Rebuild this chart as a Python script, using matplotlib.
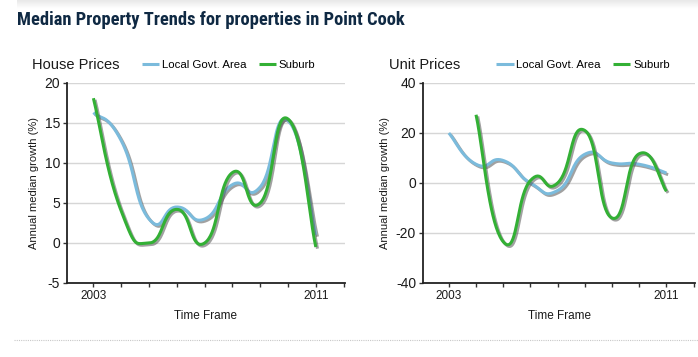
import matplotlib
matplotlib.use('Agg')
import matplotlib.pyplot as plt
import matplotlib.patheffects as pe
from matplotlib import font_manager
import numpy as np

# values
years = [2003, 2004, 2005, 2006, 2007, 2008, 2009, 2010, 2011]
house_lga = [16.3, 12.8, 3.0, 4.5, 3.0, 7.3, 7.0, 15.3, 1.0]
house_suburb = [18.1, 4.0, 0.0, 4.2, 0.0, 8.8, 5.0, 15.5, -0.5]

unit_years = [2003, 2004, 2005, 2006, 2007, 2008, 2009, 2010, 2011]
unit_lga = [20.0, 7.5, 9.0, 0.0, -3.0, 11.5, 8.0, 7.5, 4.0]
unit_suburb_years = [2004, 2005, 2006, 2007, 2008, 2009, 2010, 2011]
unit_suburb = [27.3, -23.5, 1.0, 0.0, 21.0, -14.0, 11.7, -3.3]

year_ticks = list(range(2003, 2013))
year_labels = ['2003', '', '', '', '', '', '', '', '2011', '']

lga_color = '#7bbbdc'
suburb_color = '#33b035'
title_color = '#0f2943'
text_color = '#1a1a1a'

plt.rcParams['font.family'] = ['Liberation Sans', 'DejaVu Sans']

# pick a narrow bold face for the title if one is installed
installed = {f.name for f in font_manager.fontManager.ttflist}
title_fonts = [f for f in ['Liberation Sans Narrow', 'DejaVu Sans Condensed', 'Roboto Condensed',
                           'Open Sans Condensed'] if f in installed] + ['Liberation Sans']


def spline(xs, ys, k=0.8, n=40):
    # cardinal spline (like the .NET chart "Spline" type)
    p = np.column_stack([xs, ys]).astype(float)
    m = len(p)
    tang = np.zeros_like(p)
    for i in range(m):
        a = p[max(i - 1, 0)]
        b = p[min(i + 1, m - 1)]
        tang[i] = k * (b - a)
    out = []
    t = np.linspace(0, 1, n)[:, None]
    for i in range(m - 1):
        h00 = 2 * t**3 - 3 * t**2 + 1
        h10 = t**3 - 2 * t**2 + t
        h01 = -2 * t**3 + 3 * t**2
        h11 = t**3 - t**2
        seg = h00 * p[i] + h10 * tang[i] + h01 * p[i + 1] + h11 * tang[i + 1]
        out.append(seg if i == 0 else seg[1:])
    out = np.vstack(out)
    return out[:, 0], out[:, 1]


shadow = [pe.SimpleLineShadow(offset=(1.2, -1.2), shadow_color='#555555', alpha=0.55),
          pe.Normal()]

fig = plt.figure(figsize=(6.98, 3.57), dpi=100)

# faint grey band along the top
band = fig.add_axes([17 / 698, 1 - 9 / 357, 1 - 17 / 698, 9 / 357])
band.imshow(np.linspace(0.91, 1.0, 20)[:, None], cmap='gray', vmin=0, vmax=1,
            aspect='auto', extent=(0, 1, 0, 1))
band.axis('off')

title = fig.text(17 / 698, 1 - 20 / 357, 'Median Property Trends for properties in Point Cook',
                 fontsize=15, fontweight='bold', color=title_color, va='center', ha='left',
                 family=title_fonts)
renderer = fig.canvas.get_renderer()
w = title.get_window_extent(renderer).width
title.set_fontsize(15 * 388 / w)

# dotted rule at the bottom
fig.add_artist(plt.Line2D([14 / 698, 1], [1 - 340 / 357] * 2, color='#c8c8c8',
                          lw=0.8, ls=(0, (1, 1))))


def panel(rect, title, series, ylim, yticks):
    ax = fig.add_axes(rect)
    for xs, ys, color, label in series:
        sx, sy = spline(xs, ys)
        ax.plot(sx, sy, color=color, lw=2.2, label=label, path_effects=shadow,
                solid_capstyle='butt')
    ax.set_xlim(2002.05, 2012.05)
    ax.set_ylim(*ylim)
    ax.set_yticks(yticks)
    ax.set_yticklabels([str(v) for v in yticks], fontsize=10, color=text_color)
    ax.set_xticks(year_ticks)
    ax.set_xticklabels(year_labels, fontsize=8.5, color=text_color)
    ax.tick_params(axis='both', direction='out', length=3, width=1, color='#333333', pad=2)
    ax.grid(axis='y', color='#d6d6d6', lw=1)
    ax.set_axisbelow(True)
    for s in ['top', 'right']:
        ax.spines[s].set_visible(False)
    for s in ['left', 'bottom']:
        ax.spines[s].set_linewidth(1.3)
        ax.spines[s].set_color('#222222')
    ax.set_xlabel('Time Frame', fontsize=8.5, color=text_color, labelpad=6)
    ax.set_ylabel('Annual median growth (%)', fontsize=8, color=text_color, labelpad=4)
    ax.text(-0.125, 1.09, title, transform=ax.transAxes, fontsize=10.5, color=text_color,
            va='center', ha='left')
    leg = ax.legend(loc='center left', bbox_to_anchor=(0.27, 1.09), ncol=2, frameon=False,
                    fontsize=8.2, handlelength=1.5, handletextpad=0.25, columnspacing=1.1,
                    borderaxespad=0, borderpad=0)
    for line in leg.get_lines():
        line.set_linewidth(2.2)
        line.set_path_effects([])
    return ax


panel([67 / 698, 74 / 357, 278 / 698, 200 / 357], 'House Prices',
      [(years, house_lga, lga_color, 'Local Govt. Area'),
       (years, house_suburb, suburb_color, 'Suburb')],
      (-5, 20), [-5, 0, 5, 10, 15, 20])

panel([423 / 698, 74 / 357, 272 / 698, 200 / 357], 'Unit Prices',
      [(unit_years, unit_lga, lga_color, 'Local Govt. Area'),
       (unit_suburb_years, unit_suburb, suburb_color, 'Suburb')],
      (-40, 40), [-40, -20, 0, 20, 40])

fig.savefig('out.png', dpi=100)
